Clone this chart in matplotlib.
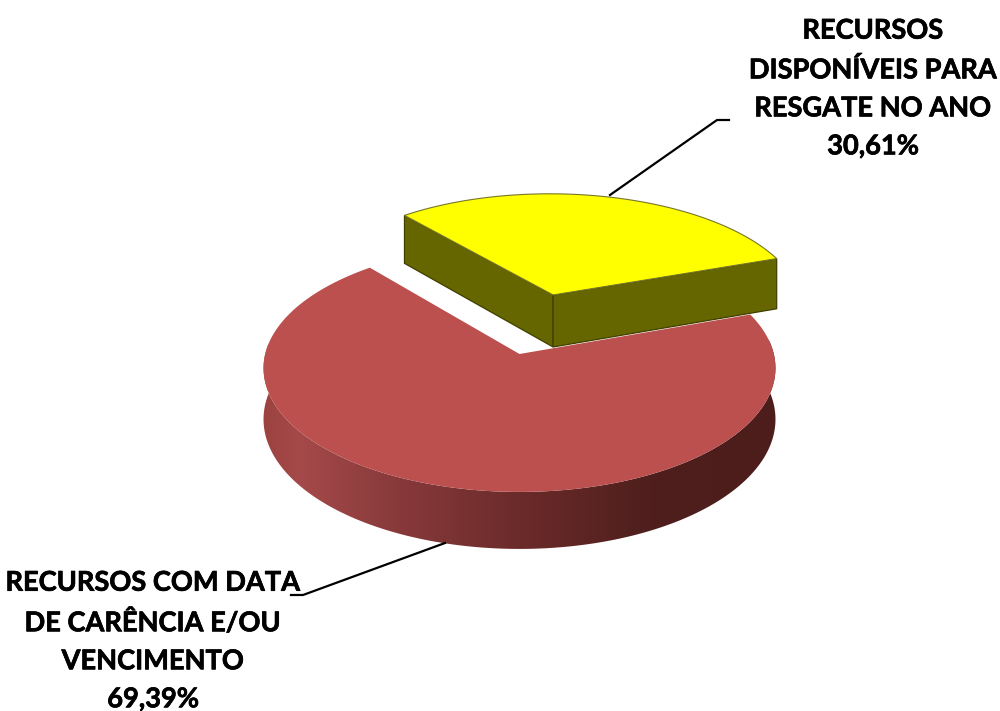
import numpy as np
import matplotlib
matplotlib.use("Agg")
import matplotlib.pyplot as plt
import matplotlib.patheffects as pe
from matplotlib.colors import to_rgb
from matplotlib.patches import Polygon

labels = ["RECURSOS\nDISPONÍVEIS PARA\nRESGATE NO ANO\n30,61%",
          "RECURSOS COM DATA\nDE CARÊNCIA E/OU\nVENCIMENTO\n69,39%"]
values = [30.61, 69.39]
explode = [0.53, 0.0]

plt.rcParams['font.family'] = ['Lato', 'DejaVu Sans']

# pie layout, in pixels of the picture
cx, cy = 519.5, 354
rx, ry = 254.3, 122.2
persp = 0.114
depth = 50.5
yellow_r = 1.03
start = 129.8  # angle where the yellow slice begins, going clockwise

# rim shading of the red slice, left to right
rim_x = [263, 300, 400, 520, 650, 776]
rim_cols = ["#9c4340", "#a5494a", "#87393a", "#6b2b2a", "#4e1f1d", "#4c1d1b"]


def project(u, v, drop=0.0):
    w = 1 + persp * v
    return cx + rx * u / w, cy - ry * v / w + drop / w


def wedge_top(a0, a1, off, r=1.0):
    t = np.radians(np.linspace(a0, a1, 200))
    u = np.r_[off[0], off[0] + r * np.cos(t)]
    v = np.r_[off[1], off[1] + r * np.sin(t)]
    return project(u, v)


fig = plt.figure(figsize=(10, 7.11), dpi=100)
ax = fig.add_axes([0, 0, 1, 1])

sweep_y = values[0] / sum(values) * 360
sweep_r = values[1] / sum(values) * 360
mid_y = np.radians(start - sweep_y / 2)
off_y = (explode[0] * np.cos(mid_y), explode[0] * np.sin(mid_y))

# red slice: rim as a gradient clipped to its outline, then the top
t = np.radians(np.linspace(175, start + sweep_r, 400))
x0, y0 = project(np.cos(t), np.sin(t))
x1, y1 = project(np.cos(t)[::-1], np.sin(t)[::-1], depth)
rim = Polygon(np.c_[np.r_[x0, x1], np.r_[y0, y1]], closed=True, transform=ax.transData, fc="none", ec="none")
ax.add_patch(rim)
xs = np.linspace(260, 780, 520)
rgb = np.array([to_rgb(c) for c in rim_cols])
grad = np.stack([np.interp(xs, rim_x, rgb[:, i]) for i in range(3)], axis=-1)[np.newaxis, :, :]
im = ax.imshow(grad, extent=(260, 780, 560, 340), aspect="auto", zorder=2, interpolation="bilinear")
im.set_clip_path(rim)

x, y = wedge_top(start, start + sweep_r, (0, 0))
ax.fill(x, y, color="#bc504e", lw=0, zorder=3)

# yellow slice: the two cut faces and the top
for a in [start, start - sweep_y]:
    u = np.array([off_y[0], off_y[0] + yellow_r * np.cos(np.radians(a))])
    v = np.array([off_y[1], off_y[1] + yellow_r * np.sin(np.radians(a))])
    x0, y0 = project(u, v)
    x1, y1 = project(u[::-1], v[::-1], depth * 1.09)
    ax.fill(np.r_[x0, x1], np.r_[y0, y1], facecolor="#666600", edgecolor="#3f3f00", lw=0.9, zorder=4)
x, y = wedge_top(start, start - sweep_y, off_y, yellow_r)
ax.fill(x, y, facecolor="#ffff00", edgecolor="#77772a", lw=0.8, zorder=5)

# leader lines
ax.plot([610, 717, 729], [195, 120, 120], color="black", lw=1.6, zorder=6)
ax.plot([445, 303, 291], [543, 595, 595], color="black", lw=1.6, zorder=6)

bold = [pe.withStroke(linewidth=0.5, foreground="black")]
ax.text(873, 88.5, labels[0], ha="center", va="center", fontsize=19.6,
        fontweight="bold", linespacing=1.7, color="black", path_effects=bold, zorder=7)
ax.text(153, 641, labels[1], ha="center", va="center", fontsize=19.6,
        fontweight="bold", linespacing=1.7, color="black", path_effects=bold, zorder=7)

ax.set_xlim(0, 1000)
ax.set_ylim(711, 0)
ax.axis("off")

fig.savefig("out.png", dpi=100)
